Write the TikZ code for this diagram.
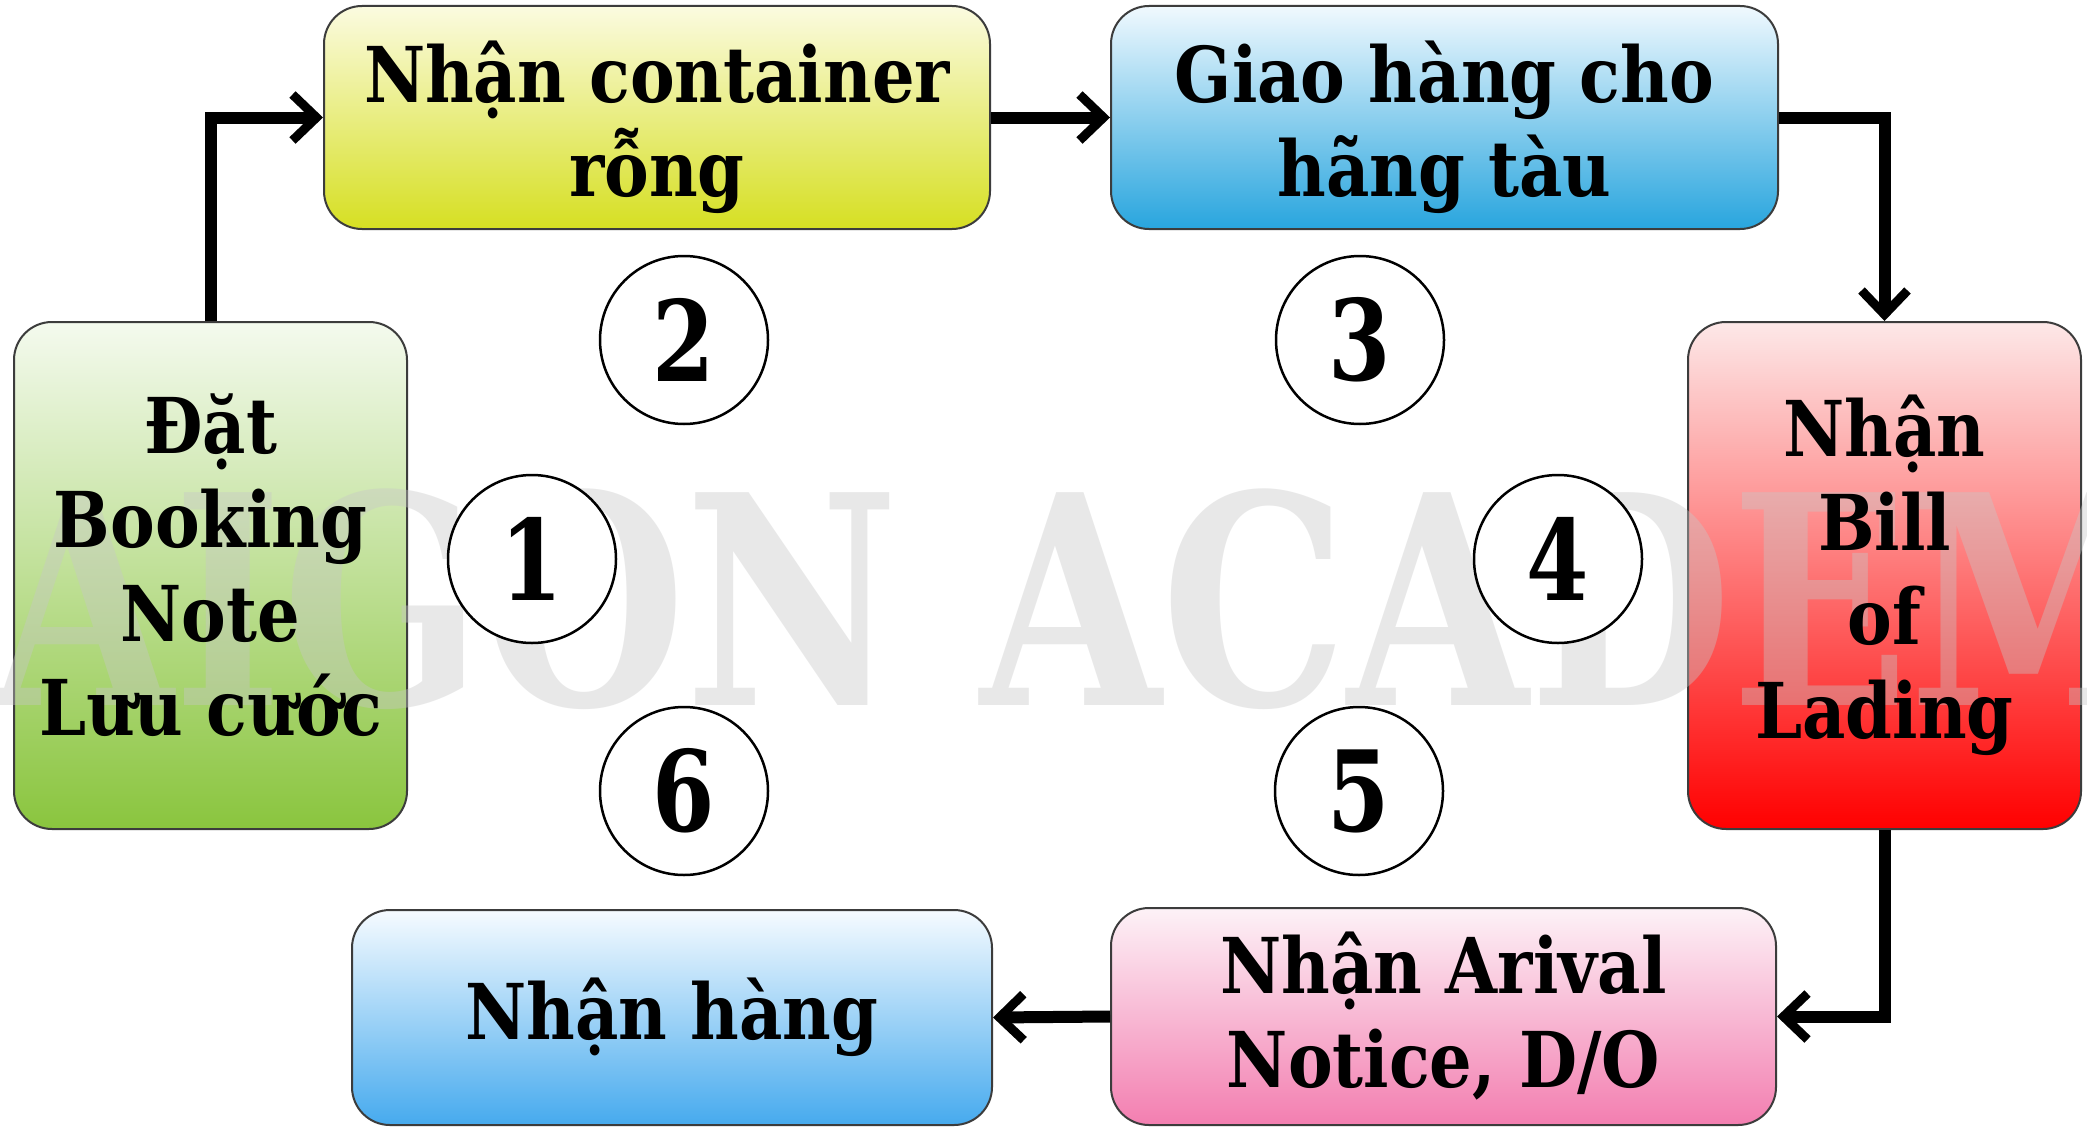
\documentclass[tikz,border=0pt]{standalone}
\usepackage{fontspec}
\usetikzlibrary{arrows.meta}
\newfontfamily\boxfont[FakeStretch=0.87]{DejaVu Serif}
\newfontfamily\digfont[FakeStretch=0.8]{DejaVu Serif}
\definecolor{g1}{RGB}{244,250,238}\definecolor{g2}{RGB}{138,197,62}
\definecolor{y1}{RGB}{251,251,224}\definecolor{y2}{RGB}{214,223,34}
\definecolor{bl1}{RGB}{240,249,254}\definecolor{bl2}{RGB}{40,165,222}
\definecolor{r1}{RGB}{253,232,232}\definecolor{r2}{RGB}{255,0,0}
\definecolor{p1}{RGB}{253,242,247}\definecolor{p2}{RGB}{243,126,176}
\definecolor{c1}{RGB}{246,251,255}\definecolor{c2}{RGB}{70,170,238}
\definecolor{edge}{RGB}{60,60,60}
\tikzset{
  box/.style={draw=edge, line width=2pt, rounded corners=38pt, inner sep=0pt},
  boxtext/.style={inner sep=0pt, align=center, font=\boxfont\bfseries\fontsize{77}{94}\selectfont},
  num/.style={circle, draw=black, line width=2.5pt, fill=white, minimum size=168pt, inner sep=0pt,
     font=\digfont\bfseries\fontsize{112}{112}\selectfont},
  flow/.style={line width=12pt, -{Straight Barb[length=24pt,width=46pt,line width=9pt]}},
}
\begin{document}
\begin{tikzpicture}[x=1pt,y=-1pt]
\useasboundingbox (0,0) rectangle (2087,1132);
\clip (0,0) rectangle (2087,1132);
\fill[white] (0,0) rectangle (2087,1132);
% boxes
\node[box, top color=g1, bottom color=g2, minimum width=393pt, minimum height=507pt] (b1) at (210.5,575.5) {};
\node[box, top color=y1, bottom color=y2, minimum width=666pt, minimum height=223pt] (b2) at (657,117.5) {};
\node[box, top color=bl1, bottom color=bl2, minimum width=667pt, minimum height=223pt] (b3) at (1444.5,117.5) {};
\node[box, top color=r1, bottom color=r2, minimum width=393pt, minimum height=507pt] (b4) at (1884.5,575.5) {};
\node[box, top color=p1, bottom color=p2, minimum width=665pt, minimum height=217pt] (b5) at (1443.5,1016.5) {};
\node[box, top color=c1, bottom color=c2, minimum width=640pt, minimum height=215pt] (b6) at (672,1017.5) {};
% watermark
\node[anchor=base west, inner sep=0pt, text=black!22, text opacity=0.4,
  font=\digfont\bfseries\fontsize{292}{292}\selectfont] (wm) at (-8,705) {AIGON ACADEMY};
% box texts
\node[boxtext] (t1) at ([yshift=10pt]b1.center) {Đặt\\Booking\\Note\\Lưu cước};
\node[boxtext] (t2) at ([yshift=-10pt]b2.center) {Nhận container\\rỗng};
\node[boxtext] (t3) at ([yshift=-10pt]b3.center) {Giao hàng cho\\hãng tàu};
\node[boxtext] (t4) at (b4.center) {Nhận\\Bill\\of\\Lading};
\node[boxtext] (t5) at (b5.center) {Nhận Arival\\Notice, D/O};
\node[boxtext] (t6) at (b6.center) {Nhận hàng};
% numbers
\node[num] (n1) at (532,559) {1};
\node[num] (n2) at (684,340) {2};
\node[num] (n3) at (1360,340) {3};
\node[num] (n4) at (1558,559) {4};
\node[num] (n5) at (1359,791) {5};
\node[num] (n6) at (684,791) {6};
% connectors
\draw[flow] (b1.north) |- (b2.west);
\draw[flow] (b2.east) -- (b3.west);
\draw[flow] (b3.east) -| (b4.north);
\draw[flow] (b4.south) |- (b5.east);
\draw[flow] (b5.west) -- (b6.east);
\end{tikzpicture}
\end{document}
